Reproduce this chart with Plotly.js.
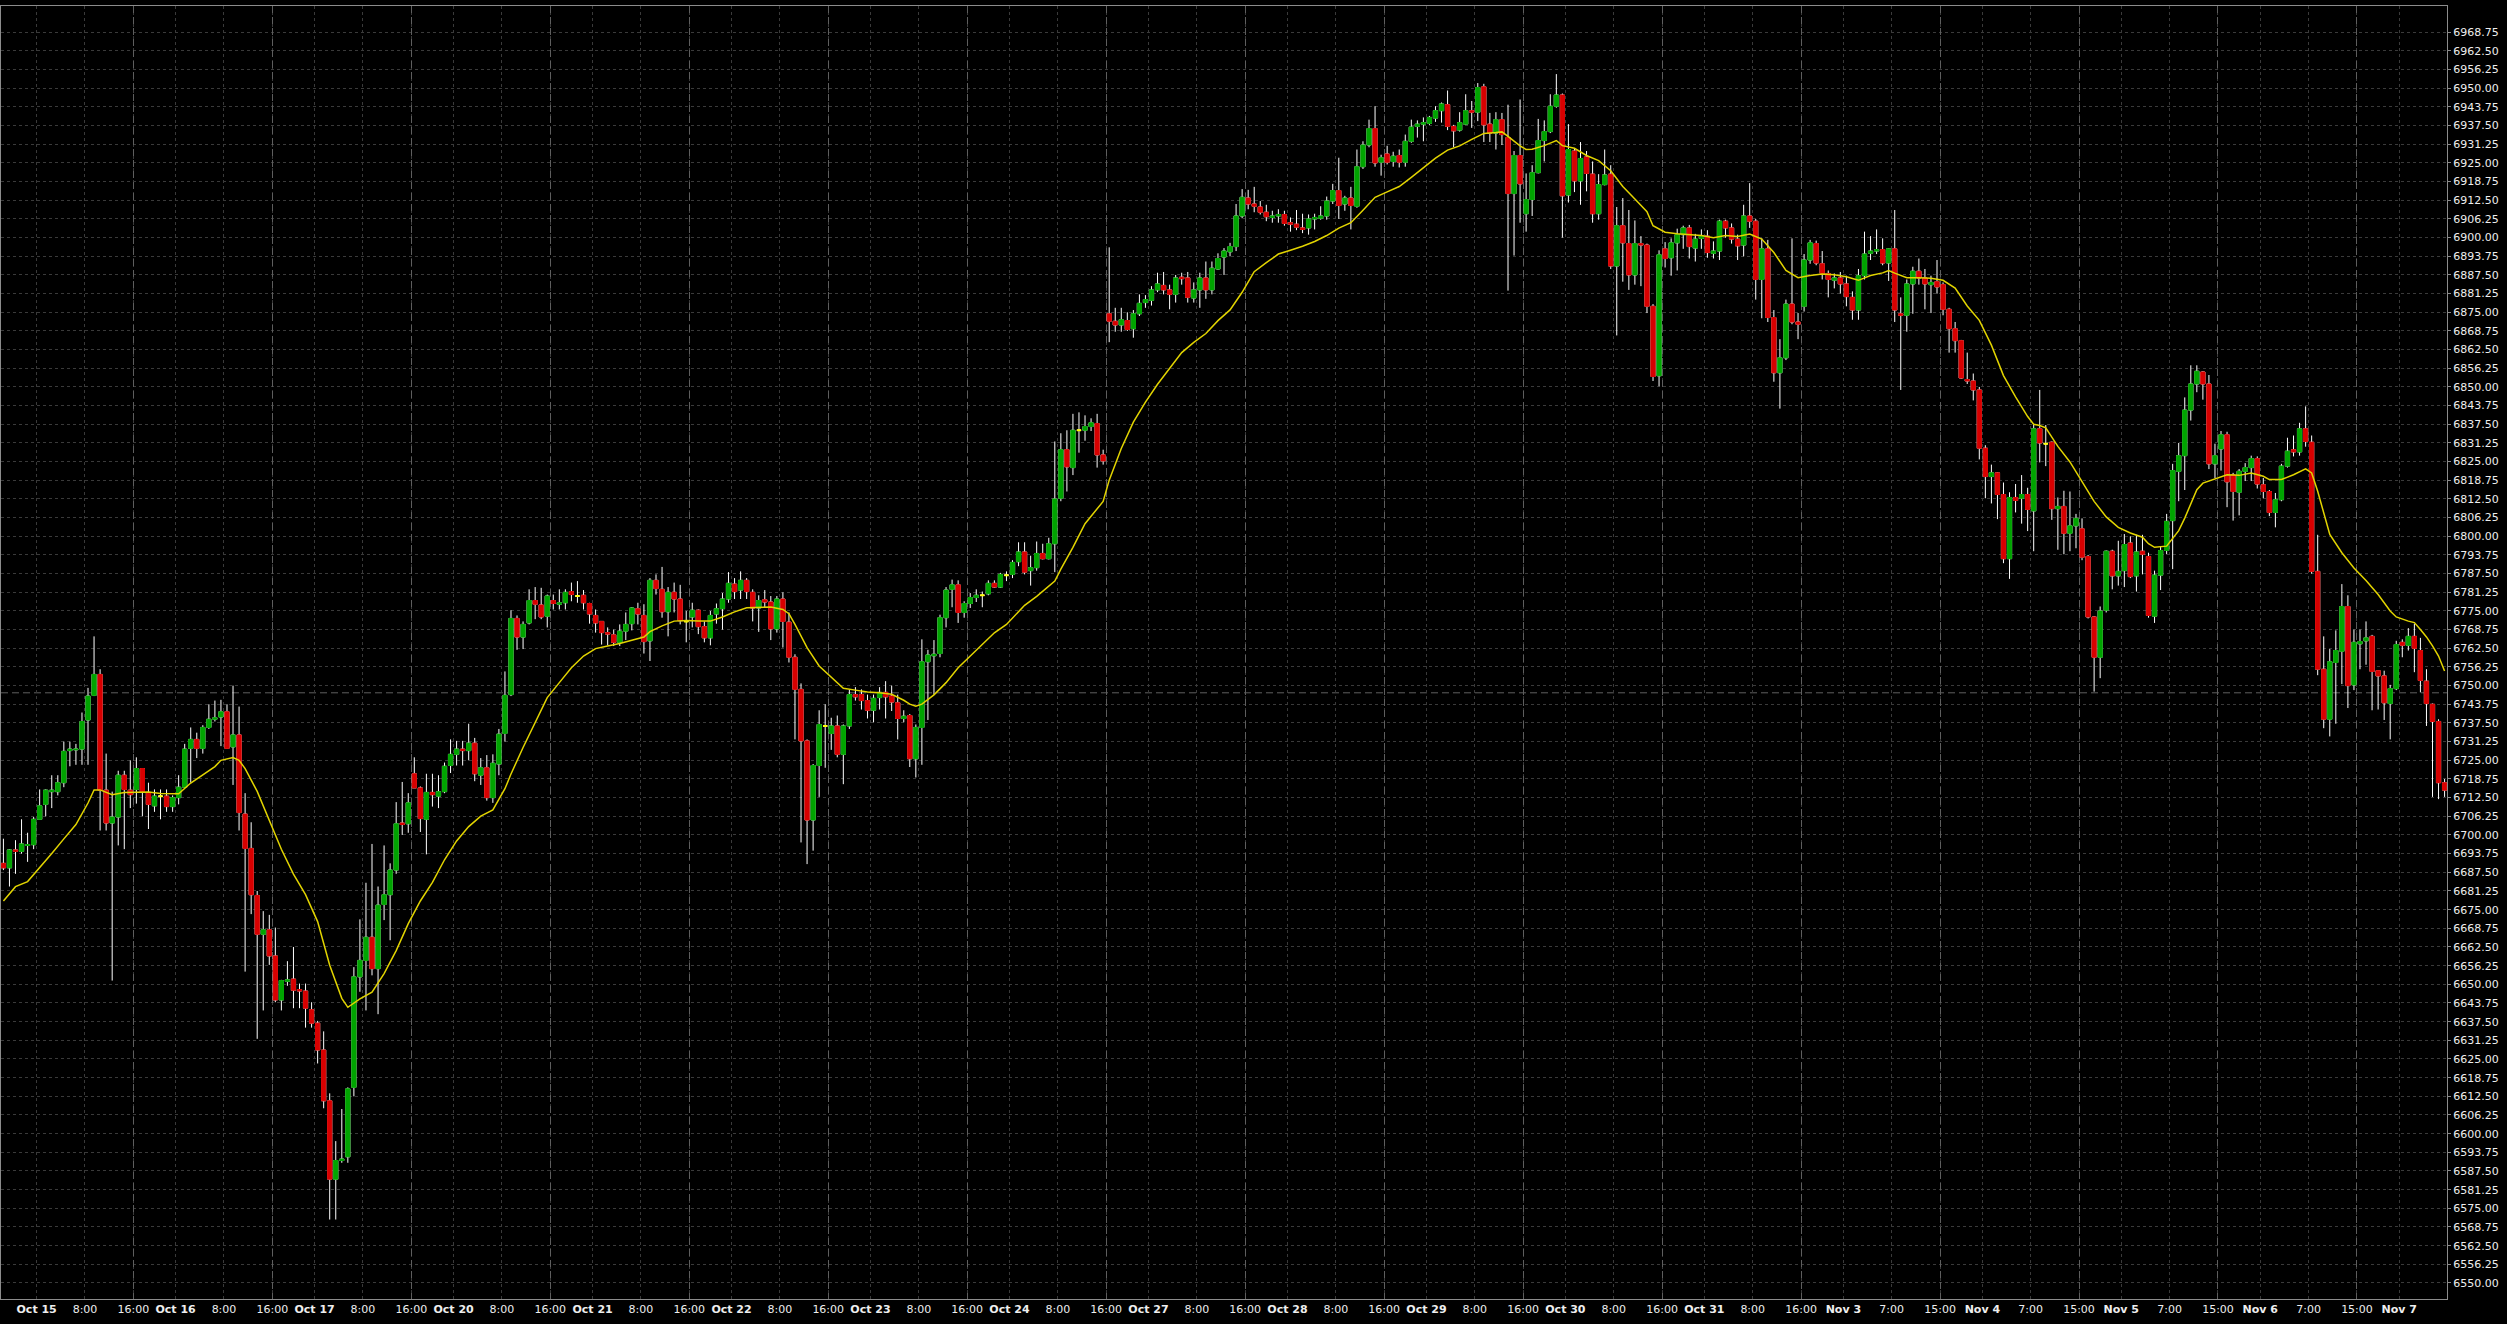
<!DOCTYPE html>
<html>
<head>
<meta charset="utf-8">
<script src="https://cdn.plot.ly/plotly-3.0.1.min.js"></script>
<style>
html,body{margin:0;padding:0;background:#000;}
#chart{width:2507px;height:1324px;}
</style>
</head>
<body>
<div id="chart"></div>
<script>
// Hourly bars, Oct 14 18:00 .. Nov 7 ~07:00 (index 0..404)
const open = [
6690.5,6689.0,6695.0,6694.5,6696.5,6696.75,6705.25,6710.25,6714.5,6714.5,
6717.5,6728.25,6728.5,6728.75,6738.5,6746.75,6753.75,6715.0,6704.0,6706.0,
6720.0,6715.0,6715.25,6722.25,6714.25,6709.75,6713.0,6713.0,6709.5,6712.5,
6716.0,6729.0,6732.0,6729.0,6736.0,6738.75,6739.5,6741.25,6729.5,6733.5,
6707.0,6695.5,6679.75,6666.75,6668.25,6659.5,6644.75,6651.0,6651.75,6648.25,
6647.75,6641.5,6637.0,6628.0,6611.0,6584.75,6591.0,6592.25,6615.5,6652.5,
6658.0,6665.75,6655.25,6676.75,6680.0,6688.25,6704.0,6703.75,6720.5,6715.75,
6705.25,6714.25,6713.0,6714.5,6723.25,6727.0,6728.75,6728.25,6730.75,6720.0,
6722.5,6712.5,6723.75,6734.0,6747.0,6772.5,6766.25,6771.0,6778.5,6777.0,
6773.25,6778.5,6777.25,6777.75,6781.5,6780.0,6780.25,6777.5,6773.5,6771.5,
6767.75,6767.0,6764.5,6768.25,6770.75,6775.75,6773.5,6765.0,6785.25,6782.25,
6774.75,6781.25,6779.0,6771.5,6773.0,6775.25,6769.75,6766.0,6774.0,6775.75,
6779.0,6784.0,6782.0,6785.25,6781.25,6776.0,6778.75,6778.0,6769.0,6779.0,
6771.25,6759.5,6748.75,6731.5,6705.0,6723.25,6736.5,6734.0,6736.5,6727.0,
6736.5,6747.0,6747.0,6745.0,6741.75,6746.0,6747.75,6746.5,6744.25,6739.0,
6740.0,6725.5,6736.0,6758.0,6760.0,6760.75,6772.75,6782.25,6783.75,6774.5,
6777.5,6779.5,6780.25,6780.75,6784.25,6783.0,6787.0,6787.25,6791.5,6794.75,
6788.5,6789.5,6794.25,6792.5,6797.5,6812.75,6829.0,6823.0,6835.5,6835.5,
6836.75,6837.75,6827.25,6874.5,6872.0,6870.75,6872.25,6869.5,6874.5,6878.25,
6879.0,6882.5,6884.0,6882.5,6881.0,6886.75,6886.5,6879.75,6882.5,6886.5,
6882.5,6889.5,6893.5,6895.25,6897.0,6907.25,6913.25,6911.25,6910.25,6908.5,
6906.75,6907.25,6907.75,6905.0,6904.5,6903.25,6903.25,6906.25,6906.5,6907.25,
6912.25,6915.75,6911.25,6913.25,6910.5,6923.75,6931.0,6936.5,6925.25,6928.0,
6925.5,6927.5,6925.25,6932.25,6937.25,6938.0,6938.25,6940.0,6942.5,6944.5,
6937.25,6936.0,6938.0,6942.5,6942.0,6950.5,6938.0,6935.0,6939.5,6933.5,
6914.75,6927.5,6908.0,6912.75,6921.75,6932.5,6935.5,6944.0,6947.75,6914.25,
6929.0,6919.0,6927.0,6921.25,6908.0,6917.75,6921.25,6890.5,6904.0,6898.0,
6887.5,6898.0,6897.5,6877.0,6853.75,6896.25,6893.25,6898.25,6901.0,6903.25,
6896.5,6899.75,6900.5,6894.75,6895.5,6905.5,6903.25,6899.5,6897.5,6907.25,
6905.5,6886.0,6896.25,6873.25,6854.75,6859.75,6877.75,6871.75,6877.0,6892.5,
6898.0,6891.25,6888.0,6885.75,6886.5,6884.5,6880.0,6875.75,6887.25,6894.75,
6895.5,6896.0,6891.5,6896.25,6874.5,6874.0,6884.5,6888.75,6886.5,6884.25,
6885.25,6884.25,6876.0,6869.5,6865.5,6852.5,6852.0,6849.0,6829.5,6820.0,
6821.25,6814.0,6792.5,6813.0,6812.75,6814.0,6808.5,6836.0,6831.0,6831.5,
6809.25,6810.0,6801.0,6803.5,6802.5,6793.25,6773.0,6759.5,6775.25,6795.0,
6786.75,6788.5,6797.75,6786.75,6795.0,6793.25,6773.25,6787.0,6795.25,6805.25,
6821.75,6827.0,6842.25,6851.0,6855.0,6851.0,6824.25,6829.25,6834.0,6820.5,
6814.75,6821.75,6823.0,6826.0,6817.25,6815.0,6808.0,6812.25,6823.5,6829.0,
6828.25,6836.0,6831.5,6788.25,6755.5,6738.75,6757.75,6761.5,6776.5,6750.25,
6764.0,6765.0,6766.5,6755.0,6753.25,6744.0,6749.0,6764.5,6763.5,6766.5,
6761.75,6751.5,6743.75,6738.0,6717.5
];
const high = [
6698.75,6695.25,6698.25,6705.25,6700.75,6706.0,6715.25,6715.25,6720.0,6720.0,
6731.25,6731.25,6730.5,6741.0,6749.25,6766.5,6755.5,6727.25,6714.5,6721.5,
6721.5,6725.0,6726.0,6722.25,6717.5,6715.25,6715.25,6715.25,6713.25,6720.0,
6730.5,6736.0,6734.25,6736.75,6743.75,6745.0,6745.25,6743.75,6750.0,6743.0,
6714.0,6704.25,6681.25,6674.5,6673.25,6669.0,6651.5,6657.75,6662.5,6650.25,
6650.25,6644.0,6637.75,6634.25,6613.5,6597.5,6608.25,6615.5,6655.75,6671.75,
6684.0,6697.0,6682.75,6696.5,6690.5,6711.0,6717.75,6714.0,6726.0,6716.25,
6720.5,6720.5,6720.0,6724.25,6732.0,6731.5,6731.5,6737.25,6732.5,6725.75,
6726.75,6727.0,6735.5,6754.75,6775.25,6773.5,6771.5,6782.25,6783.0,6782.75,
6780.5,6780.5,6782.25,6782.25,6784.5,6785.0,6782.0,6777.75,6775.5,6771.5,
6769.5,6768.75,6770.5,6774.5,6776.25,6777.75,6777.25,6786.0,6787.25,6789.75,
6783.0,6784.5,6783.75,6775.0,6777.75,6775.5,6771.5,6775.0,6777.5,6781.0,
6788.0,6786.0,6788.25,6786.0,6782.25,6780.25,6782.0,6780.0,6780.0,6781.25,
6774.5,6760.5,6750.75,6732.0,6723.75,6741.75,6743.75,6739.25,6740.0,6737.0,
6748.75,6749.5,6748.75,6747.0,6747.0,6749.5,6751.5,6750.0,6747.0,6741.75,
6740.5,6737.0,6765.5,6762.0,6765.25,6773.75,6783.0,6785.5,6785.25,6778.25,
6781.0,6782.25,6781.5,6785.25,6785.25,6787.75,6788.25,6792.0,6798.0,6798.0,
6793.5,6798.25,6797.5,6799.5,6831.75,6834.5,6835.5,6841.0,6841.5,6840.5,
6839.5,6841.0,6829.0,6896.75,6876.5,6876.5,6875.0,6875.75,6881.0,6880.75,
6883.75,6888.25,6888.5,6884.25,6887.5,6888.25,6888.5,6885.0,6888.25,6892.0,
6892.0,6894.75,6896.5,6898.25,6911.25,6916.25,6916.0,6917.0,6912.25,6911.0,
6909.0,6909.5,6909.0,6906.75,6909.25,6908.0,6907.75,6908.0,6910.5,6913.75,
6918.0,6926.75,6914.0,6917.0,6929.5,6932.25,6939.5,6944.0,6927.75,6930.75,
6928.75,6929.5,6934.5,6939.5,6939.25,6940.25,6940.75,6944.0,6945.25,6949.25,
6937.75,6942.0,6948.0,6945.75,6951.75,6951.5,6941.75,6942.0,6941.75,6944.5,
6929.0,6946.25,6921.5,6924.25,6939.75,6939.25,6948.0,6954.75,6948.25,6938.0,
6929.75,6932.0,6929.0,6925.5,6921.25,6929.5,6924.25,6910.25,6913.25,6909.25,
6905.75,6900.5,6898.0,6877.75,6895.75,6898.5,6899.75,6903.0,6904.0,6904.25,
6901.25,6902.75,6902.5,6898.75,6906.0,6906.0,6904.75,6901.0,6911.0,6918.25,
6906.25,6899.75,6899.25,6875.75,6866.0,6879.25,6899.75,6874.75,6894.5,6899.25,
6899.0,6895.5,6889.0,6888.0,6888.5,6887.25,6882.0,6889.5,6902.0,6900.5,
6902.75,6899.75,6896.5,6909.25,6880.0,6886.0,6890.25,6893.0,6889.5,6887.25,
6892.5,6885.0,6876.5,6871.75,6865.75,6861.5,6854.5,6850.0,6830.5,6824.0,
6821.5,6818.0,6814.75,6817.5,6820.5,6816.25,6837.5,6849.0,6837.25,6831.75,
6813.0,6815.25,6815.0,6807.5,6806.0,6793.75,6773.25,6776.5,6795.25,6795.5,
6798.5,6800.75,6800.0,6800.5,6800.5,6794.5,6788.5,6796.75,6807.5,6824.25,
6831.25,6846.5,6857.25,6857.25,6855.25,6854.0,6831.0,6835.25,6835.0,6821.25,
6822.5,6824.5,6827.0,6826.75,6819.5,6815.5,6814.5,6824.25,6833.0,6833.75,
6838.0,6843.5,6833.75,6800.5,6766.5,6762.25,6768.5,6784.0,6780.25,6768.75,
6768.75,6771.5,6767.0,6755.0,6755.0,6750.25,6765.0,6765.5,6769.25,6770.75,
6766.0,6755.5,6744.0,6738.75,6718.75
];
const low = [
6688.25,6682.75,6687.0,6693.75,6691.0,6695.25,6705.25,6706.25,6709.0,6713.25,
6716.0,6723.0,6723.5,6723.5,6723.5,6746.5,6701.5,6701.5,6651.25,6696.5,
6695.25,6709.0,6710.5,6706.25,6702.0,6707.75,6705.25,6707.75,6707.75,6710.25,
6715.75,6717.5,6725.75,6727.25,6735.5,6738.0,6729.75,6729.0,6716.75,6701.5,
6654.25,6673.5,6631.75,6641.25,6656.5,6644.0,6641.25,6649.5,6642.0,6642.0,
6635.5,6635.5,6623.5,6608.5,6571.25,6571.25,6590.25,6590.25,6612.5,6647.5,
6641.25,6653.0,6640.0,6671.5,6664.75,6687.0,6700.0,6700.75,6715.75,6701.0,
6693.5,6709.5,6709.0,6714.0,6720.75,6723.25,6723.25,6725.0,6718.0,6716.75,
6711.5,6710.75,6720.0,6731.25,6746.5,6762.0,6762.25,6770.5,6772.25,6772.25,
6769.5,6775.5,6775.5,6775.5,6778.25,6777.75,6775.5,6770.75,6767.75,6763.75,
6763.5,6763.25,6763.25,6765.25,6768.5,6770.5,6760.75,6758.25,6780.5,6772.75,
6766.5,6774.5,6770.5,6764.5,6769.5,6767.25,6764.5,6763.5,6770.75,6768.75,
6777.75,6779.0,6779.0,6779.0,6771.5,6768.0,6776.25,6765.25,6767.75,6762.75,
6757.75,6732.0,6697.5,6690.25,6694.75,6712.75,6722.5,6728.5,6726.0,6717.0,
6735.5,6745.0,6742.0,6739.0,6737.75,6742.0,6739.0,6741.5,6732.0,6737.75,
6722.75,6719.25,6723.5,6738.5,6747.0,6759.5,6769.5,6776.25,6771.0,6772.75,
6776.0,6778.0,6776.25,6780.25,6782.75,6782.75,6785.0,6786.0,6790.0,6787.25,
6783.5,6788.5,6792.25,6792.25,6788.0,6811.75,6815.0,6820.5,6828.0,6832.0,
6835.25,6823.0,6824.0,6865.0,6868.5,6868.5,6868.75,6866.5,6873.75,6876.5,
6877.25,6881.75,6881.0,6876.0,6878.25,6884.25,6878.25,6878.25,6876.5,6879.5,
6881.0,6889.25,6887.5,6893.75,6895.5,6906.5,6909.5,6908.5,6907.75,6905.5,
6905.0,6905.0,6904.0,6902.0,6902.5,6901.5,6901.0,6902.75,6906.0,6906.0,
6911.25,6906.25,6909.0,6902.75,6910.0,6923.0,6930.25,6923.75,6920.75,6924.5,
6923.75,6923.5,6923.75,6931.75,6933.5,6932.25,6937.75,6938.75,6938.5,6936.0,
6930.25,6935.5,6937.75,6936.75,6939.0,6932.0,6932.0,6929.5,6931.0,6882.25,
6894.0,6905.0,6902.0,6907.25,6921.5,6925.5,6935.0,6943.5,6900.0,6911.75,
6915.25,6911.0,6915.5,6905.0,6906.0,6917.5,6889.5,6867.25,6885.25,6882.5,
6884.25,6883.75,6874.75,6852.0,6850.25,6890.0,6887.25,6889.0,6896.25,6893.0,
6892.0,6896.25,6893.25,6893.0,6892.5,6900.0,6898.0,6892.5,6893.75,6903.25,
6879.25,6873.0,6871.75,6851.75,6842.75,6859.0,6871.0,6866.0,6875.25,6891.25,
6890.75,6886.0,6880.0,6883.0,6881.25,6877.0,6872.5,6872.5,6886.0,6892.5,
6894.5,6890.75,6885.5,6871.75,6849.0,6868.5,6874.5,6884.25,6876.0,6874.75,
6881.25,6874.0,6861.5,6861.5,6852.75,6851.0,6845.5,6825.75,6812.75,6811.0,
6805.75,6791.0,6785.75,6808.0,6804.25,6801.75,6795.0,6824.75,6823.5,6805.5,
6795.5,6794.0,6795.0,6796.0,6792.0,6772.5,6748.0,6752.5,6774.5,6782.25,
6783.5,6783.0,6786.0,6781.5,6787.25,6772.75,6771.0,6782.0,6794.0,6789.0,
6811.75,6815.5,6838.75,6848.25,6845.75,6822.5,6819.5,6822.0,6809.75,6805.25,
6807.0,6818.5,6818.5,6816.0,6812.75,6806.75,6803.0,6811.75,6823.0,6826.75,
6827.0,6830.0,6787.5,6753.5,6735.75,6733.0,6737.25,6750.5,6742.5,6748.5,
6755.5,6757.0,6741.75,6742.0,6738.5,6732.0,6748.5,6759.5,6761.75,6754.5,
6747.75,6736.5,6712.75,6712.0,6712.75
];
const close = [
6689.0,6695.0,6694.5,6697.0,6696.75,6705.25,6709.75,6715.0,6715.0,6717.5,
6728.0,6728.75,6728.75,6738.0,6746.5,6753.75,6715.0,6704.0,6706.0,6720.0,
6715.25,6713.5,6722.25,6714.25,6710.25,6713.0,6713.0,6709.5,6712.5,6716.0,
6728.75,6732.0,6729.0,6736.0,6738.75,6739.25,6741.25,6729.0,6733.5,6707.5,
6695.5,6680.0,6666.75,6668.25,6659.5,6644.75,6651.25,6651.5,6648.0,6647.75,
6642.0,6637.0,6628.0,6611.0,6584.75,6591.0,6591.5,6615.0,6652.5,6658.0,
6665.75,6655.25,6676.5,6680.0,6688.25,6703.75,6703.5,6710.75,6715.75,6705.5,
6714.25,6713.5,6714.5,6723.0,6727.0,6728.75,6728.25,6730.75,6720.5,6722.5,
6712.5,6724.0,6733.75,6746.75,6772.5,6766.25,6770.5,6778.5,6777.25,6773.0,
6780.0,6777.5,6777.75,6781.25,6780.5,6780.0,6777.75,6774.0,6771.0,6767.75,
6767.25,6764.5,6768.25,6770.5,6776.0,6774.0,6764.75,6785.25,6782.5,6774.75,
6781.25,6779.0,6771.75,6771.5,6775.25,6769.75,6766.0,6773.5,6775.75,6779.0,
6784.25,6781.5,6785.25,6781.5,6776.0,6778.5,6778.0,6769.0,6779.0,6771.5,
6759.5,6748.75,6731.5,6705.0,6723.25,6737.0,6736.5,6736.5,6727.0,6736.5,
6747.0,6746.25,6745.0,6741.75,6745.75,6747.75,6746.25,6744.5,6739.0,6739.75,
6725.5,6736.0,6758.0,6760.25,6760.5,6772.75,6782.0,6783.75,6774.5,6777.5,
6779.5,6780.25,6780.25,6784.25,6783.0,6787.25,6787.0,6791.25,6794.75,6788.0,
6789.5,6794.25,6792.5,6797.5,6812.5,6829.0,6823.25,6835.5,6835.5,6836.75,
6838.0,6827.25,6825.25,6872.0,6870.75,6872.5,6869.25,6874.5,6878.0,6879.25,
6882.5,6884.5,6882.5,6881.0,6886.5,6886.25,6880.0,6882.5,6886.5,6882.5,
6889.75,6893.0,6895.5,6897.0,6907.25,6913.5,6911.25,6910.5,6908.5,6907.0,
6907.25,6907.75,6904.75,6904.5,6903.5,6902.75,6906.25,6906.75,6907.25,6912.25,
6915.75,6910.75,6913.25,6910.75,6923.75,6931.0,6936.5,6925.0,6926.75,6925.25,
6927.25,6925.25,6932.25,6937.0,6938.0,6938.5,6940.25,6942.5,6944.75,6937.25,
6935.75,6938.5,6942.5,6942.0,6950.25,6937.75,6935.0,6939.5,6934.5,6914.75,
6927.5,6918.0,6912.75,6921.75,6932.5,6935.5,6944.0,6947.75,6914.0,6929.5,
6919.0,6926.5,6921.5,6908.0,6917.75,6921.0,6890.5,6904.0,6898.25,6887.5,
6898.0,6897.5,6877.0,6853.5,6894.25,6893.0,6898.25,6901.0,6903.25,6897.0,
6899.5,6900.5,6895.0,6895.5,6905.5,6903.25,6899.5,6897.25,6907.25,6905.5,
6886.0,6896.25,6873.25,6854.75,6859.75,6877.75,6871.75,6871.0,6892.5,6898.25,
6891.5,6888.0,6886.0,6886.5,6884.5,6880.25,6875.75,6887.25,6894.5,6895.5,
6896.0,6891.5,6896.25,6875.75,6874.0,6884.5,6888.75,6886.5,6884.5,6885.0,
6883.5,6876.0,6869.5,6865.5,6853.0,6852.0,6849.0,6829.5,6820.0,6821.25,
6814.0,6792.5,6813.0,6812.0,6814.0,6809.0,6836.0,6831.25,6831.0,6809.25,
6810.0,6801.0,6803.5,6806.0,6793.0,6773.0,6759.5,6775.0,6795.0,6786.75,
6788.25,6797.25,6786.5,6794.75,6794.0,6773.5,6787.0,6795.25,6805.0,6822.0,
6827.0,6842.25,6851.0,6855.25,6851.0,6824.25,6827.0,6834.0,6818.25,6815.0,
6821.75,6823.0,6826.0,6817.5,6815.0,6808.0,6812.25,6823.5,6828.5,6828.25,
6836.0,6831.75,6788.25,6755.5,6738.75,6758.0,6761.75,6776.5,6750.0,6764.5,
6764.75,6766.0,6754.75,6753.25,6744.25,6749.0,6763.75,6763.5,6766.5,6762.5,
6751.75,6744.0,6738.0,6717.5,6715.0
];

// Moving average (yellow line), read at selected bars
const maBar = [0,2,4,6,8,10,12,14,15,16,18,20,22,24,26,28,29,31,33,35,36,38,39,40,42,44,46,48,50,52,54,56,57,59,61,63,65,67,69,71,73,75,77,79,81,83,84,86,88,90,92,94,96,98,100,102,104,106,107,109,111,113,115,117,119,121,123,125,127,129,130,131,133,135,137,139,141,143,145,147,149,150,151,152,154,156,158,160,162,164,166,168,169,171,173,174,175,177,179,181,182,183,185,187,189,191,193,195,197,199,201,203,205,207,209,211,213,215,217,219,221,223,225,227,229,231,233,235,237,239,241,243,245,247,248,249,250,251,252,253,255,257,258,260,262,264,266,268,270,272,273,275,277,279,281,283,285,287,289,291,292,293,295,297,299,301,303,305,307,309,311,312,313,315,317,319,321,322,323,325,327,329,331,333,335,336,337,338,340,342,344,346,348,350,352,354,355,356,358,359,360,361,362,363,364,366,368,370,372,374,375,377,379,381,382,383,384,385,387,389,391,393,395,396,398,399,400,401,402,403,404];
const maValue = [6677.9,6682.7,6684.4,6689.0,6693.8,6698.7,6703.5,6710.7,6715.1,6715.1,6713.5,6714.2,6714.4,6714.4,6713.9,6713.8,6713.8,6717.4,6720.1,6722.9,6725.0,6725.9,6725.0,6722.2,6714.6,6704.9,6695.2,6686.9,6680.0,6671.0,6656.4,6645.3,6642.3,6645.1,6647.4,6653.6,6661.3,6670.3,6677.9,6684.1,6691.7,6698.0,6702.8,6706.3,6708.4,6715.5,6720.4,6729.3,6737.7,6746.0,6751.0,6756.0,6759.9,6762.4,6763.3,6764.1,6765.2,6766.3,6768.1,6770.0,6771.6,6771.8,6771.6,6771.6,6773.0,6774.7,6776.1,6776.3,6776.3,6775.5,6774.1,6770.5,6762.7,6756.6,6752.7,6749.1,6748.5,6747.9,6747.6,6747.1,6745.1,6743.8,6743.1,6743.8,6746.9,6751.0,6756.0,6759.9,6764.1,6767.7,6770.5,6774.7,6776.9,6779.9,6783.3,6785.0,6789.0,6796.3,6804.2,6809.0,6811.7,6818.8,6829.4,6838.2,6844.9,6850.9,6856.4,6861.5,6864.9,6867.9,6872.2,6875.8,6881.7,6888.6,6891.6,6894.5,6895.8,6897.1,6898.7,6900.7,6903.2,6905.0,6909.2,6913.5,6915.3,6917.1,6920.2,6923.5,6926.6,6929.3,6930.7,6932.9,6934.9,6935.2,6935.4,6933.9,6932.3,6930.7,6929.5,6929.6,6930.8,6932.5,6930.8,6929.9,6927.5,6925.8,6922.4,6917.1,6912.9,6908.7,6904.0,6901.8,6901.3,6901.0,6900.7,6900.0,6900.7,6900.4,6901.2,6899.5,6897.4,6895.0,6889.0,6886.6,6887.3,6887.8,6887.6,6886.9,6885.7,6887.3,6888.2,6889.0,6888.1,6886.6,6886.6,6886.4,6885.7,6884.5,6883.1,6877.1,6872.3,6864.0,6853.8,6846.7,6840.1,6837.5,6837.1,6836.3,6830.1,6824.9,6818.4,6811.7,6806.5,6803.0,6801.1,6799.7,6797.5,6796.3,6796.7,6799.5,6801.9,6806.1,6810.8,6815.6,6817.8,6819.3,6820.6,6820.4,6821.2,6820.1,6819.0,6819.0,6820.6,6822.6,6821.2,6815.1,6807.5,6800.6,6794.5,6789.4,6785.2,6780.5,6775.0,6773.0,6771.6,6771.1,6768.8,6766.3,6763.3,6759.9,6754.9];

// Horizontal reference level (dashed line)
const refLevel = 6747.6;

// Time axis labels
const dayLabels = ['Oct 15','Oct 16','Oct 17','Oct 20','Oct 21','Oct 22','Oct 23','Oct 24','Oct 27','Oct 28','Oct 29','Oct 30','Oct 31','Nov 3','Nov 4','Nov 5','Nov 6','Nov 7'];
const intradayLabels = [
  ['8:00','16:00'],['8:00','16:00'],['8:00','16:00'],['8:00','16:00'],['8:00','16:00'],
  ['8:00','16:00'],['8:00','16:00'],['8:00','16:00'],['8:00','16:00'],['8:00','16:00'],
  ['8:00','16:00'],['8:00','16:00'],['8:00','16:00'],
  ['7:00','15:00'],['7:00','15:00'],['7:00','15:00'],['7:00','15:00']
];
const barsBeforeFirstDay = 6;   // Oct 14 evening bars
const barsPerDay = 23;           // hourly bars per session
const intradayOffsets = [8, 16]; // bars after day start

const idx = close.map((_, i) => i);
const tickPos = [], tickText = [], breakPos = [];
dayLabels.forEach((d, k) => {
  const start = barsBeforeFirstDay - 0.5 + k * barsPerDay;
  tickPos.push(start); tickText.push('<b>' + d + '</b>');
  (intradayLabels[k] || []).forEach((t, j) => {
    const p = start + intradayOffsets[j];
    tickPos.push(p); tickText.push(t);
    if (j === intradayOffsets.length - 1) breakPos.push(p);
  });
});

const yTicks = [];
for (let v = 6550; v <= 6968.75 + 1e-9; v += 6.25) yTicks.push(v);

const GREEN = '#00a400', RED = '#d80000', DOJI = '#ffff00';

function bodyTrace(list, color, lw) {
  return {
    type: 'candlestick', x: list,
    open: list.map(i => open[i]), close: list.map(i => close[i]),
    high: list.map(i => Math.max(open[i], close[i])),
    low: list.map(i => Math.min(open[i], close[i])),
    increasing: {line: {color: color, width: lw}, fillcolor: color},
    decreasing: {line: {color: color, width: lw}, fillcolor: color},
    whiskerwidth: 0, hoverinfo: 'skip', showlegend: false
  };
}

const wickTrace = {
  type: 'candlestick', x: idx, open: open, high: high, low: low, close: close,
  increasing: {line: {color: '#ffffff', width: 1}, fillcolor: 'rgba(0,0,0,0)'},
  decreasing: {line: {color: '#ffffff', width: 1}, fillcolor: 'rgba(0,0,0,0)'},
  whiskerwidth: 0, hoverinfo: 'skip', showlegend: false
};

const upBars = idx.filter(i => close[i] > open[i]);
const downBars = idx.filter(i => close[i] < open[i]);
const flatBars = idx.filter(i => close[i] === open[i]);

const maTrace = {
  type: 'scatter', mode: 'lines', x: maBar, y: maValue, xaxis: 'x2', yaxis: 'y',
  line: {color: '#e2d400', width: 1.5}, hoverinfo: 'skip', showlegend: false
};

const xRange = [-0.4, 404.4];
const gridFaint = '#3a3a3a';
const font = {family: 'DejaVu Sans, Verdana, sans-serif', size: 11, color: '#eeeeee'};

const layout = {
  width: 2507, height: 1324,
  margin: {l: 1, r: 60, t: 6, b: 25, pad: 0},
  paper_bgcolor: '#000000', plot_bgcolor: '#000000',
  showlegend: false,
  boxmode: 'overlay', boxgap: 0.3, boxgroupgap: 0,
  xaxis: {
    type: 'linear', range: xRange, rangeslider: {visible: false},
    tickmode: 'array', tickvals: tickPos, ticktext: tickText, tickangle: 0,
    showgrid: true, gridcolor: gridFaint, griddash: '3px,3px', gridwidth: 1,
    ticks: '', showline: true, linecolor: '#8c8c8c', linewidth: 1, mirror: true,
    zeroline: false, tickfont: font, fixedrange: true
  },
  xaxis2: {
    type: 'linear', overlaying: 'x', range: xRange,
    tickmode: 'array', tickvals: breakPos, showticklabels: false, ticks: '',
    showgrid: true, gridcolor: '#5e5e5e', griddash: '7px,4px', gridwidth: 1,
    showline: false, zeroline: false, fixedrange: true
  },
  yaxis: {
    side: 'right', range: [6544.64, 6977.55],
    tickmode: 'array', tickvals: yTicks, tickformat: '.2f',
    showgrid: true, gridcolor: gridFaint, griddash: '3px,3px', gridwidth: 1,
    ticks: 'outside', ticklen: 3, tickcolor: '#8c8c8c',
    showline: true, linecolor: '#8c8c8c', linewidth: 1, mirror: true,
    zeroline: false, tickfont: font, fixedrange: true
  },
  shapes: [{
    type: 'line', xref: 'paper', x0: 0, x1: 1, yref: 'y', y0: refLevel, y1: refLevel,
    line: {color: '#5e5e5e', width: 1, dash: '7px,4px'}, layer: 'below'
  }]
};

Plotly.newPlot('chart', [
  wickTrace,
  bodyTrace(upBars, GREEN, 1),
  bodyTrace(downBars, RED, 1),
  bodyTrace(flatBars, DOJI, 2),
  maTrace
], layout, {staticPlot: true, displayModeBar: false});
</script>
</body>
</html>
